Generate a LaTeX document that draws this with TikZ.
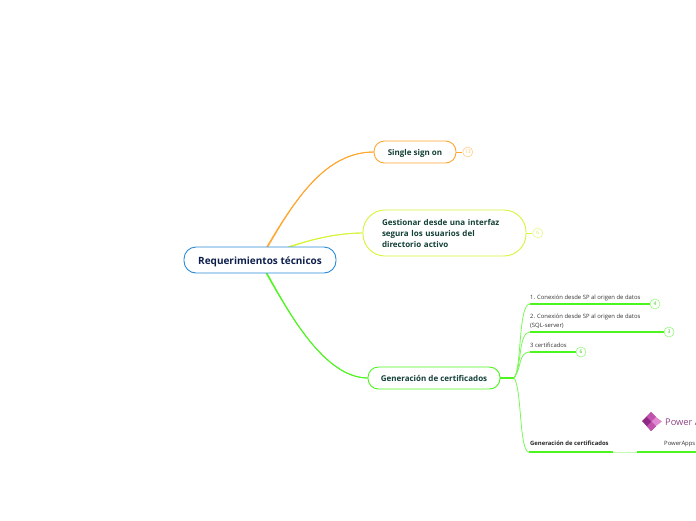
\documentclass[tikz,border=0pt]{standalone}
\usepackage{xcolor}
\usepackage{fontspec}
\setmainfont{Open Sans}
\usepackage{tikz}
\usetikzlibrary{positioning, shapes.geometric}
\definecolor{mmblue}{HTML}{2B8AD6}
\definecolor{mmnavy}{HTML}{0E1F4D}
\definecolor{mmink}{HTML}{123F36}
\definecolor{mmorange}{HTML}{FFA62E}
\definecolor{mmlime}{HTML}{D6F53A}
\definecolor{mmgreen}{HTML}{4DF51F}
\definecolor{mmgray}{HTML}{333333}
\definecolor{mmdark}{HTML}{8E2A85}
\definecolor{mmpink}{HTML}{E189D0}
\definecolor{mmmid}{HTML}{C252AE}

\begin{document}
\begin{tikzpicture}[
  x=1pt, y=-1pt,
  root/.style={
    rectangle, rounded corners=12pt, draw=mmblue, fill=white, line width=0.9pt,
    minimum width=152pt, minimum height=26pt, text height=10.3pt, text depth=2pt,
    font=\fontsize{10}{12}\selectfont\bfseries, text=mmnavy
  },
  topic/.style={
    rectangle, rounded corners=10.5pt, fill=white, line width=0.9pt,
    minimum height=22pt,
    font=\fontsize{8}{12}\selectfont\bfseries, text=mmink, align=left
  },
  sub/.style={
    anchor=base west, inner sep=0pt,
    font=\fontsize{5.9}{9}\selectfont, text=mmgray, align=left
  },
  badge/.style={
    circle, draw, fill=white, line width=0.6pt, minimum size=10pt, inner sep=0pt,
    font=\fontsize{5}{5}\selectfont
  },
  branch/.style={line width=0.9pt},
  twig/.style={color=mmgreen!75, line width=0.8pt},
  stem/.style={color=mmgreen, line width=1.4pt},
]
\useasboundingbox (0,0) rectangle (696,520);
\clip (0,0) rectangle (696,520);

\coordinate (oa) at (266.8,247);
\coordinate (ob) at (267.8,247);
\coordinate (ya) at (288,247);
\coordinate (yb) at (288.6,247.6);
\coordinate (ga) at (266,273);
\coordinate (gb) at (267,273);
\coordinate (fork) at (514,378);

% Relations
\draw[branch, color=mmorange] (oa) .. controls (300,190) and (330,152) .. (374,152);
\draw[branch, color=mmorange] (ob) .. controls (300,190) and (330,152) .. (374,152);
\draw[branch, color=mmlime] (ya) .. controls (315,238) and (340,233) .. (363,233);
\draw[branch, color=mmlime] (yb) .. controls (315,238) and (340,233) .. (363,233);
\draw[branch, color=mmgreen] (ga) .. controls (290,315) and (325,378) .. (368,378);
\draw[branch, color=mmgreen] (gb) .. controls (290,315) and (325,378) .. (368,378);

\node[root] (req) at (260,260) {Requerimientos técnicos};
\node[topic, draw=mmorange, minimum width=82pt, text height=8.3pt, text depth=2pt] (sso) at (415,152) {Single sign on};
\node[topic, draw=mmlime, rounded corners=22pt, minimum width=163pt, minimum height=46pt, text width=125pt] (gest) at (444.5,233)
  {Gestionar desde una interfaz\\[-1pt]segura los usuarios del\\[-1pt]directorio activo};
\node[topic, draw=mmgreen, minimum width=132pt] (gen) at (434,378) {Generación de certificados};

\node[badge, draw=mmorange!55, text=mmorange!70, right=6pt of sso] (bsso) {13};
\node[badge, draw=mmlime!60, text=mmlime, right=6pt of gest] (bgest) {6};
\draw[color=mmorange, line width=0.9pt] (sso) -- (bsso);
\draw[color=mmlime, line width=0.9pt] (gest) -- (bgest);

\node[sub] (con1) at (530,299.5) {1. Conexión desde SP al origen de datos};
\node[sub] (con2) at (530,327.5) {2. Conexión desde SP al origen de datos\\(SQL-server)};
\node[sub] (con3) at (530,347) {3 certificados};
\node[sub, font=\fontsize{5.9}{9}\selectfont\bfseries, text=black!85] (cert) at (530,445) {Generación de certificados};
\node[sub] (papps) at (664,445) {PowerApps};
\node[sub, font=\fontsize{9.3}{12}\selectfont, text=mmdark!70!gray] (pname) at (665,425) {Power A};

\node[badge, draw=mmgreen!60, text=mmgreen!80!black] (b1) at (655,304) {4};
\node[badge, draw=mmgreen!60, text=mmgreen!80!black] (b2) at (669,332) {3};
\node[badge, draw=mmgreen!60, text=mmgreen!80!black] (b3) at (581,352) {6};

\coordinate (l1) at (530,304);
\coordinate (l2) at (530,332);
\coordinate (l3) at (530,352);
\coordinate (l4) at (529,452);
\coordinate (p1) at (613,452);
\coordinate (p2) at (637,452);
\coordinate (p3) at (696,452);

\draw[stem] (gen) -- (fork);
\draw[twig] (fork) .. controls (522,368) and (518,304) .. (l1);
\draw[twig] (fork) .. controls (522,368) and (518,332) .. (l2);
\draw[twig] (fork) .. controls (522,368) and (518,352) .. (l3);
\draw[twig] (fork) .. controls (522,388) and (519,452) .. (l4);
\draw[stem] (l1) -- (b1);
\draw[stem] (l2) -- (b2);
\draw[stem] (l3) -- (b3);
\draw[stem] (l4) -- (p1);
\draw[color=mmgreen!35, line width=1pt] (p1) -- (p2);
\draw[stem] (p2) -- (p3);

% Logo
\fill[mmdark] (642,421) -- (651,412) -- (656,417) -- (651.5,421.5) -- (656,426) -- (651,431) -- cycle;
\fill[mmmid] (651,412) -- (656,417) -- (651.5,421.5) -- (647,417) -- cycle;
\fill[mmpink] (651.5,421.5) -- (656,417) -- (662,421.5) -- (656,426) -- cycle;
\fill[mmmid] (651.5,421.5) -- (656,426) -- (651,431) -- (647,426) -- cycle;

\end{tikzpicture}
\end{document}
